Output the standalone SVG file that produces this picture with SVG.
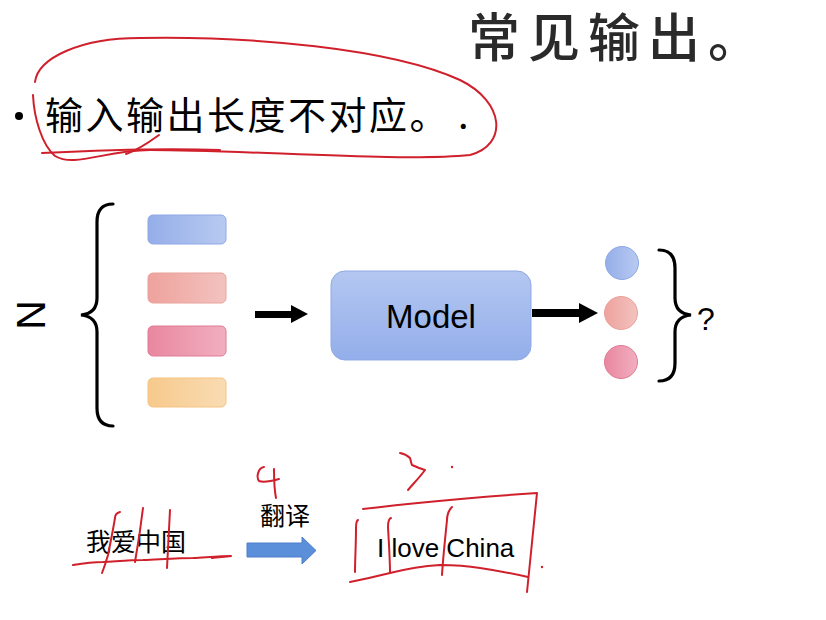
<svg xmlns="http://www.w3.org/2000/svg" width="826" height="620" viewBox="0 0 826 620">
<style>
.cjk{font-family:"Noto Sans CJK SC","Liberation Sans",sans-serif;}
.lat{font-family:"Liberation Sans",Arial,sans-serif;}
.ink{fill:none;stroke:#d0202c;stroke-width:2;stroke-linecap:round;stroke-linejoin:round;}
.brace{fill:none;stroke:#000;stroke-width:3.2;stroke-linecap:round;}
.bar{stroke-width:1;}
</style>
<defs>
<linearGradient id="gBlue" x1="0" x2="1"><stop offset="0" stop-color="#95aee9"/><stop offset="1" stop-color="#b8caf1"/></linearGradient>
<linearGradient id="gPink" x1="0" x2="1"><stop offset="0" stop-color="#eea29d"/><stop offset="1" stop-color="#f3c3bf"/></linearGradient>
<linearGradient id="gRose" x1="0" x2="1"><stop offset="0" stop-color="#e9879f"/><stop offset="1" stop-color="#f1afc0"/></linearGradient>
<linearGradient id="gOrange" x1="0" x2="1"><stop offset="0" stop-color="#f7c98c"/><stop offset="1" stop-color="#f9dcb3"/></linearGradient>
<linearGradient id="gModel" x1="0" y1="0" x2="0" y2="1"><stop offset="0" stop-color="#b4c7f1"/><stop offset="1" stop-color="#93aeea"/></linearGradient>
</defs>

<rect width="826" height="620" fill="#fff"/>

<g id="title">
<text class="cjk" x="468" y="57" font-size="52" letter-spacing="8" font-weight="500" fill="#2a2a2a">常见输出。</text>
</g>

<g id="bullet">
<circle cx="19" cy="116" r="4" fill="#000"/>
<text class="cjk" x="45" y="129" font-size="38" letter-spacing="2.5" fill="#000">输入输出长度不对应。<tspan dx="8">.</tspan></text>
</g>

<g id="annotation-top">
<path class="ink" d="M35,82 C38,58 80,38 140,38 C250,36 390,48 460,80 C505,102 508,145 470,155 C400,162 250,150 150,150 C105,150 75,168 55,156 C42,145 34,118 33,95"/>
<path class="ink" d="M42,153 C100,150 170,148 220,150"/>
<path class="ink" d="M159,135 C148,143 138,150 126,154"/>
</g>

<g id="input-N">
<text class="lat" x="0" y="0" font-size="41" fill="#000" text-anchor="middle" transform="translate(17,315) rotate(90)">N</text>
</g>

<g id="left-brace">
<path class="brace" d="M113,204 C101,204 97,211 97,222 L97,298 C97,309 91,314 81,315 C91,316 97,321 97,332 L97,408 C97,419 101,426 113,426"/>
</g>

<g id="input-bars">
<rect class="bar" x="148" y="215" width="78" height="29" rx="5" fill="url(#gBlue)" stroke="#8ea8e6"/>
<rect class="bar" x="148" y="273" width="78" height="30" rx="5" fill="url(#gPink)" stroke="#eaa29c"/>
<rect class="bar" x="148" y="326" width="78" height="30" rx="5" fill="url(#gRose)" stroke="#e07b95"/>
<rect class="bar" x="148" y="378" width="78" height="29" rx="5" fill="url(#gOrange)" stroke="#f5c380"/>
</g>

<g id="model">
<rect x="331" y="271" width="200" height="89" rx="14" fill="url(#gModel)" stroke="#8fa9e6" stroke-width="1"/>
<text class="lat" x="431" y="328" font-size="33" fill="#000" text-anchor="middle">Model</text>
</g>

<g id="outputs">
<circle cx="622" cy="263" r="16.5" fill="url(#gBlue)" stroke="#8ea8e6"/>
<circle cx="621" cy="313" r="16.5" fill="url(#gPink)" stroke="#eaa29c"/>
<circle cx="621" cy="362" r="16.5" fill="url(#gRose)" stroke="#e07b95"/>
</g>

<g id="right-brace">
<path class="brace" d="M659,250 C671,250 675,257 675,268 L675,298 C675,309 681,314 691,315 C681,316 675,321 675,332 L675,363 C675,374 671,381 659,381"/>
<text class="lat" x="697" y="330" font-size="32" fill="#000">?</text>
</g>

<g id="connectors">
<path d="M255,311 H291 V305 L308,314 L291,323 V318 H255 Z" fill="#000"/>
<path d="M532,309 H579 V303 L598,313 L579,323 V317 H532 Z" fill="#000"/>
<path d="M247,543 H302 V537 L316,550.5 L302,564 V557 H247 Z" fill="#5c8fd9" stroke="#4c7ecb" stroke-width="1"/>
</g>

<g id="example-source">
<text class="cjk" x="86" y="551" font-size="25" fill="#000">我爱中国</text>
</g>

<g id="example-label">
<text class="cjk" x="260" y="525" font-size="25" fill="#000">翻译</text>
</g>

<g id="example-target">
<text class="lat" x="377" y="557" font-size="26" fill="#000">I love China</text>
</g>

<g id="annotation-bottom">
<path class="ink" d="M73,565 C85,563 95,562 103,562 C120,561 130,560 143,560 C165,559 180,558 193,558 C210,557 222,556 231,556 C225,557 218,557 212,558"/>
<path class="ink" d="M120,512 C116,513 115,515 115,518 C113,530 110,545 108,555 C106,562 104,568 102,573"/>
<path class="ink" d="M143,508 C141,525 138,545 135,562"/>
<path class="ink" d="M170,510 C169,528 168,548 167,568"/>
<path class="ink" d="M264,467 C258,468 256,477 259,481 C264,483 272,481 279,479"/>
<path class="ink" d="M274,469 C274,478 274,488 276,498"/>
<path class="ink" d="M363,509 C420,502 480,497 537,493 C534,525 530,560 527,592"/>
<path class="ink" d="M350,582 C365,579 378,576 390,573 C410,568 425,566 440,565 C455,565 468,566 480,568 C500,571 515,574 528,577"/>
<path class="ink" d="M358,520 C356,521 356,524 356,528 C356,545 355,560 355,572"/>
<path class="ink" d="M391,518 C388,519 388,523 388,527 C389,545 390,560 390,573"/>
<path class="ink" d="M452,507 C449,510 447,515 447,520 C445,540 443,558 442,575"/>
<path class="ink" d="M400,453 C405,454 408,456 410,458 C411,461 411,463 412,465 C417,467 421,469 425,470 C420,477 413,484 408,490"/>
<circle cx="452" cy="467" r="1.2" fill="#d0202c"/>
<circle cx="542" cy="567" r="1.2" fill="#d0202c"/>
</g>
</svg>
